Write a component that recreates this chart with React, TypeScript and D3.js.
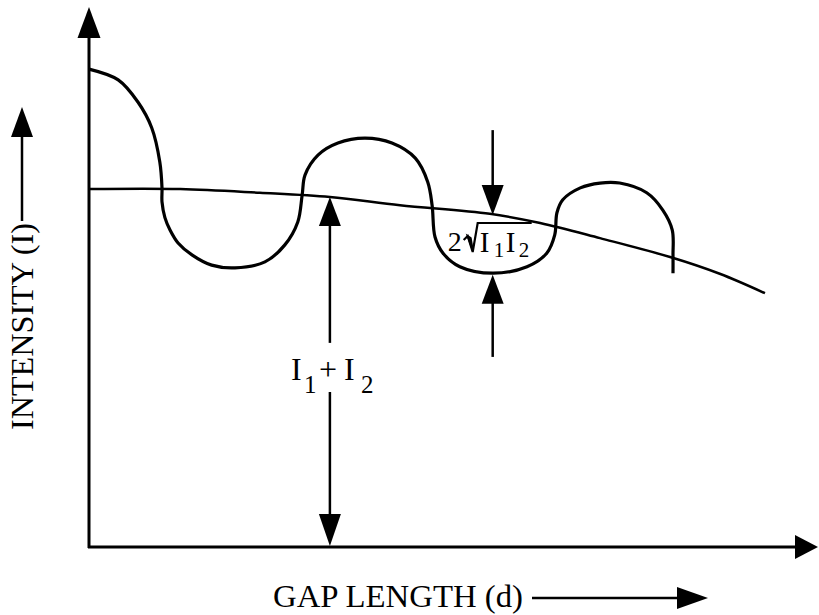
import React from "react";
import * as d3 from "d3";

const W = 819;
const H = 615;

// Gap length d and intensity I, both on a 0..100 schematic scale.
const meanD = [0, 12.5, 23.4, 33.0, 42.6, 54.9, 61.8, 70.0, 79.6, 86.4, 92.6];
const meanI = [66.3, 66.3, 65.6, 64.8, 63.3, 61.7, 60.0, 57.2, 53.7, 50.6, 47.0];

const fringeD = [
  0, 4.0, 6.7, 8.6, 9.7, 10.0, 10.0, 10.4, 11.1, 12.2, 14.1, 16.8, 20.0, 24.1, 26.8, 28.6,
  29.2, 29.6, 31.4, 34.1, 37.8, 41.5, 44.7, 46.4, 47.0, 47.4, 48.5, 50.8, 55.3, 60.0, 62.7,
  63.8, 64.1, 64.9, 67.3, 70.0, 72.7, 76.4, 78.6, 79.9, 80.0, 80.0,
];
const fringeI = [
  88.5, 86.5, 82.4, 77.6, 71.3, 66.5, 63.9, 61.0, 58.7, 56.3, 54.1, 52.2, 51.7, 52.8, 55.9, 60.2,
  65.2, 68.9, 72.6, 74.8, 75.7, 74.8, 72.0, 67.6, 63.3, 57.4, 54.4, 51.9, 50.7, 51.9, 54.4,
  57.8, 61.9, 64.3, 66.5, 67.4, 67.4, 65.6, 62.4, 58.7, 54.1, 50.7,
];

// I1 + I2 marker: from the mean level down to zero, broken around its label.
const sumD = 33.0;
const sumTop = 64.8;
const sumGap = [37.8, 28.7];

// 2·sqrt(I1 I2) marker: arrows pointing at the mean level and the fringe minimum.
const ampD = 55.3;
const ampUpperTail = 77.2;
const ampUpperTip = 61.5;
const ampLowerTip = 50.4;
const ampLowerTail = 35.2;

const xLabel = "GAP LENGTH (d)";
const yLabel = "INTENSITY (I)";

const SERIF = "'Liberation Serif', 'Times New Roman', Times, serif";

function head(tx: number, ty: number, dx: number, dy: number, len = 30, half = 11) {
  const n = Math.hypot(dx, dy);
  const ux = dx / n;
  const uy = dy / n;
  const bx = tx - ux * len;
  const by = ty - uy * len;
  const px = -uy * half;
  const py = ux * half;
  return `M${tx},${ty}L${bx + px},${by + py}L${bx - px},${by - py}Z`;
}

export default function App() {
  const x = d3.scaleLinear().domain([0, 100]).range([89, 819]);
  const y = d3.scaleLinear().domain([0, 100]).range([547, 7]);

  const line = d3
    .line<[number, number]>()
    .x((p) => x(p[0]))
    .y((p) => y(p[1]))
    .curve(d3.curveCatmullRom.alpha(0.5));

  const meanPts = meanD.map((d, i) => [d, meanI[i]] as [number, number]);
  const fringePts = fringeD.map((d, i) => [d, fringeI[i]] as [number, number]);

  const x0 = x(0);
  const y0 = y(0);
  const xTip = x(100) - 1;
  const yTip = y(100);

  const sx = x(sumD);
  const ax = x(ampD);

  return (
    <svg
      width={W}
      height={H}
      viewBox={`0 0 ${W} ${H}`}
      style={{ position: "absolute", left: 0, top: 0, background: "#fff" }}
    >
      <rect x={0} y={0} width={W} height={H} fill="#fff" />

      {/* axes */}
      <g stroke="#000" strokeWidth={3} fill="none">
        <line x1={x0} y1={y0 + 1} x2={x0} y2={yTip + 25} />
        <line x1={x0 - 1} y1={y0} x2={xTip - 20} y2={y0} />
      </g>
      <path d={head(x0, yTip, 0, -1, 31, 11.5)} fill="#000" />
      <path d={head(xTip, y0, 1, 0, 23, 12)} fill="#000" />

      {/* mean intensity I1 + I2 */}
      <path d={line(meanPts) ?? ""} fill="none" stroke="#000" strokeWidth={2.5} />

      {/* fringe intensity */}
      <path
        d={line(fringePts) ?? ""}
        fill="none"
        stroke="#000"
        strokeWidth={3.2}
        strokeLinejoin="round"
      />

      {/* I1 + I2 double arrow */}
      <g stroke="#000" strokeWidth={2.5}>
        <line x1={sx} y1={y(sumTop) + 20} x2={sx} y2={y(sumGap[0])} />
        <line x1={sx} y1={y(sumGap[1])} x2={sx} y2={y0 - 20} />
      </g>
      <path d={head(sx, y(sumTop), 0, -1, 29, 11)} fill="#000" />
      <path d={head(sx, y0 - 1, 0, 1, 32, 11)} fill="#000" />
      <g fontFamily={SERIF} fill="#000">
        <text x={sx - 39} y={380} fontSize={32}>I</text>
        <text x={sx - 26} y={393} fontSize={25}>1</text>
        <text x={sx - 2} y={380} fontSize={32} textAnchor="middle">+</text>
        <text x={sx + 14} y={380} fontSize={32}>I</text>
        <text x={sx + 31} y={393} fontSize={25}>2</text>
      </g>

      {/* 2·sqrt(I1 I2) arrows */}
      <g stroke="#000" strokeWidth={2.5}>
        <line x1={ax} y1={y(ampUpperTail)} x2={ax} y2={y(ampUpperTip) - 20} />
        <line x1={ax} y1={y(ampLowerTip) + 20} x2={ax} y2={y(ampLowerTail)} />
      </g>
      <path d={head(ax, y(ampUpperTip), 0, 1, 30, 11)} fill="#000" />
      <path d={head(ax, y(ampLowerTip), 0, -1, 29, 11)} fill="#000" />
      <g fontFamily={SERIF} fill="#000">
        <text x={ax - 45} y={251} fontSize={28}>2</text>
        <path
          d={`M${ax - 29},${240}L${ax - 25},${236}L${ax - 20},${252}L${ax - 15},${223}L${ax + 39},${223}`}
          fill="none"
          stroke="#000"
          strokeWidth={2.2}
          strokeLinejoin="miter"
        />
        <path
          d={`M${ax - 25},${236}L${ax - 20},${250}L${ax - 22},${238}Z`}
          fill="#000"
          stroke="#000"
          strokeWidth={2}
        />
        <text x={ax - 13} y={252} fontSize={29}>I</text>
        <text x={ax + 1} y={257} fontSize={21}>1</text>
        <text x={ax + 13} y={252} fontSize={29}>I</text>
        <text x={ax + 26} y={257} fontSize={21}>2</text>
      </g>

      {/* axis titles with direction arrows */}
      <text
        x={273}
        y={607}
        fontFamily={SERIF}
        fontSize={31}
        fill="#000"
        textLength={250}
        lengthAdjust="spacingAndGlyphs"
      >
        {xLabel}
      </text>
      <line x1={532} y1={598} x2={682} y2={598} stroke="#000" strokeWidth={2.5} />
      <path d={head(708, 598, 1, 0, 31, 11)} fill="#000" />

      <text
        transform="translate(33,430) rotate(-90)"
        fontFamily={SERIF}
        fontSize={31}
        fill="#000"
        textLength={207}
        lengthAdjust="spacingAndGlyphs"
      >
        {yLabel}
      </text>
      <line x1={22} y1={221} x2={22} y2={132} stroke="#000" strokeWidth={2.5} />
      <path d={head(22, 107, 0, -1, 30, 11)} fill="#000" />
    </svg>
  );
}
